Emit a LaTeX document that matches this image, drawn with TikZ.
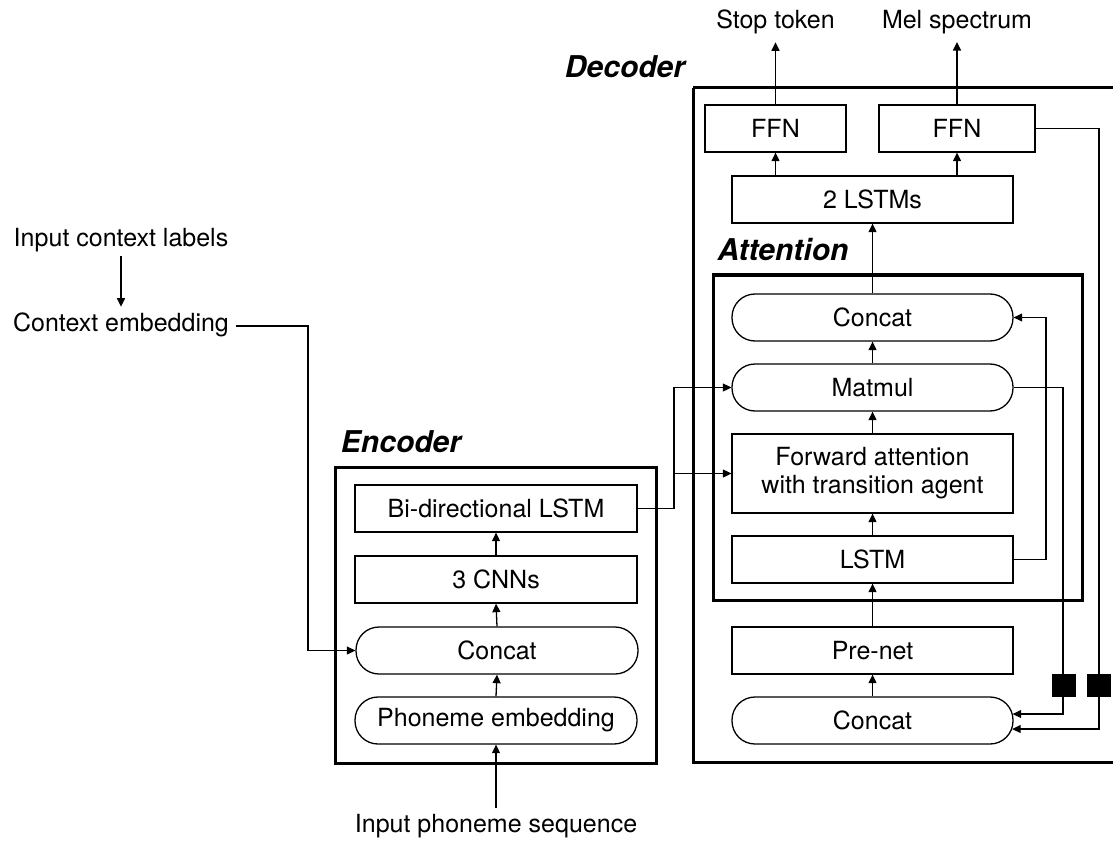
\documentclass[tikz,border=0pt]{standalone}
\usepackage{fontspec}
\setmainfont{TeX Gyre Heros}
\usetikzlibrary{arrows.meta,calc}
\tikzset{
  every node/.style={font=\fontsize{25}{28}\selectfont},
  blk/.style={draw, line width=1.3pt, minimum height=47pt, inner sep=0pt, align=center},
  pill/.style={blk, rounded corners=23pt},
  frame/.style={draw, line width=3pt},
  title/.style={font=\fontsize{30}{32}\selectfont\bfseries\itshape, inner sep=0pt},
  lbl/.style={inner sep=0pt},
  con/.style={line width=1.3pt},
  arr/.style={con, -{Triangle[length=8.5pt,width=8pt]}},
  delay/.style={fill=black, minimum width=24pt, minimum height=23pt, inner sep=0pt},
}
\begin{document}
\begin{tikzpicture}[x=1pt,y=-1pt]
\useasboundingbox (0,0) rectangle (1113,842);

% ---------- Encoder ----------
\draw[frame] (335,467) rectangle (656,763);
\node[title] (enctitle) at (401,442) {Encoder};
\node[blk, minimum width=282pt] (bilstm) at (496,508.5) {Bi-directional LSTM};
\node[blk, minimum width=282pt] (cnn) at (496,579.5) {3 CNNs};
\node[pill, minimum width=282pt] (ecat) at (497,650.5) {Concat};
\node[pill, minimum width=282pt] (pemb) at (496,720.5) {Phoneme embedding};
\node[lbl] (inphon) at (496,826) {Input phoneme sequence};

\draw[arr, shorten <=6pt] (inphon.north) -- (pemb.south);
\draw[arr] (pemb.north) -- (ecat.south);
\draw[arr] (ecat.north) -- (cnn.south);
\draw[arr] (cnn.north) -- (bilstm.south);

% ---------- Context ----------
\node[lbl] (inctx) at (121,240) {Input context labels};
\node[lbl] (ctx) at (121,325) {Context embedding};
\draw[arr, shorten <=4pt, shorten >=6pt] (inctx.south) -- (ctx.north);
\draw[arr] ([xshift=7pt]ctx.east |- 0,326) -- (308,326) -- (308,650.5) -- (ecat.west);

% ---------- Decoder ----------
\draw[frame] (693,88) -- (1130,88) (693,88) -- (693,762) -- (1130,762);
\node[title] (dectitle) at (625,67) {Decoder};
\node[blk, minimum width=141pt] (ffn1) at (775.5,128.5) {FFN};
\node[blk, minimum width=156pt] (ffn2) at (957,128.5) {FFN};
\node[blk, minimum width=281pt] (lstm2) at (872.5,199.5) {2 LSTMs};
\node[lbl] (stop) at (775.5,22) {Stop token};
\node[lbl] (mel) at (957,22) {Mel spectrum};

% ---------- Attention ----------
\draw[frame] (713,275) rectangle (1082,600);
\node[title] (atttitle) at (783,250) {Attention};
\node[pill, minimum width=281pt] (acat) at (872.5,317.5) {Concat};
\node[pill, minimum width=281pt] (matmul) at (872.5,387.5) {Matmul};
\node[blk, minimum width=281pt, minimum height=79pt] (fwd) at (872.5,473.5) {Forward attention\\with transition agent};
\node[blk, minimum width=281pt] (lstm) at (872.5,559.5) {LSTM};

\node[blk, minimum width=281pt] (prenet) at (872.5,650.5) {Pre-net};
\node[pill, minimum width=281pt] (dcat) at (872.5,720.5) {Concat};

\draw[arr] (dcat.north) -- (prenet.south);
\draw[arr] (prenet.north) -- (lstm.south);
\draw[arr] (lstm.north) -- (fwd.south);
\draw[arr] (fwd.north) -- (matmul.south);
\draw[arr] (matmul.north) -- (acat.south);
\draw[arr] (acat.north) -- (lstm2.south);
\draw[arr] (ffn1.south |- lstm2.north) -- (ffn1.south);
\draw[arr] (ffn2.south |- lstm2.north) -- (ffn2.south);
\draw[arr, shorten >=8pt] (ffn1.north) -- (stop.south);
\draw[arr, shorten >=8pt] (ffn2.north) -- (mel.south);

% feedback loops
\draw[arr] (lstm.east) -- (1046,559.5) -- (1046,317.5) -- (acat.east);
\draw[arr] (matmul.east) -- (1063,387.5) -- (1063,714) -- ($(dcat.east)+(-1,-6.5)$);
\draw[arr] (ffn2.east) -- (1099,128.5) -- (1099,729) -- ($(dcat.east)+(-1.5,8.5)$);
\node[delay] (d1) at (1064,685.5) {};
\node[delay] (d2) at (1099,685.5) {};

% encoder -> attention
\coordinate (split) at (674,473.5);
\draw[con] (bilstm.east) -- (674,508.5) -- (split);
\draw[arr] (split) -- (fwd.west);
\draw[arr] (split) -- (674,387.5) -- (matmul.west);
\end{tikzpicture}
\end{document}
